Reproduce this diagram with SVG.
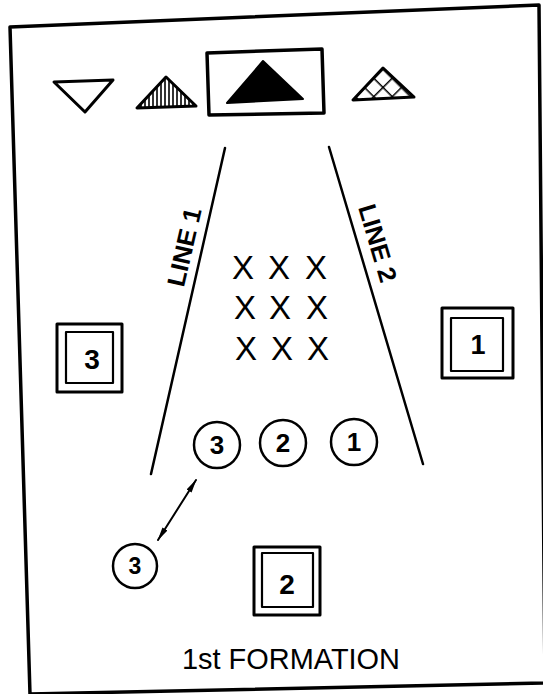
<svg xmlns="http://www.w3.org/2000/svg" width="543" height="694" viewBox="0 0 543 694">
  <style>
    .ink { fill: none; stroke: #000; stroke-linejoin: round; stroke-linecap: round; }
    .lbl { font-family: "Liberation Sans", Arial, sans-serif; fill: #000; }
    .dig { font-family: "Liberation Sans", Arial, sans-serif; font-weight: bold; fill: #000; text-anchor: middle; }
    .x { font-family: "Liberation Sans", Arial, sans-serif; font-size: 33px; fill: #000; text-anchor: middle; }
  </style>
  <defs>
    <pattern id="vhatch" patternUnits="userSpaceOnUse" width="4" height="10">
      <rect width="4" height="10" fill="#fff"/>
      <line x1="1" y1="0" x2="1" y2="10" stroke="#000" stroke-width="1.6"/>
    </pattern>
    <pattern id="xhatch" patternUnits="userSpaceOnUse" width="13" height="13" patternTransform="translate(383 68) rotate(45)">
      <rect width="13" height="13" fill="#fff"/>
      <line x1="0" y1="0" x2="13" y2="0" stroke="#000" stroke-width="3"/>
      <line x1="0" y1="0" x2="0" y2="13" stroke="#000" stroke-width="3"/>
    </pattern>
    <marker id="ah" viewBox="0 0 14 7" refX="13" refY="3.5" markerWidth="14" markerHeight="7" markerUnits="userSpaceOnUse" orient="auto-start-reverse">
      <path d="M0,0.5 L14,3.5 L0,6.5 Z" fill="#000"/>
    </marker>
  </defs>

  <rect width="543" height="694" fill="#fff"/>

  <g id="frame">
    <polygon class="ink" stroke-width="3.5" points="10,27 539,5 545,683 30,694"/>
  </g>

  <g id="tri-open">
    <polygon class="ink" stroke-width="3" points="54,82 113,80 85,112"/>
  </g>
  <g id="tri-hatched">
    <polygon class="ink" stroke-width="3" style="fill:url(#vhatch)" points="166,77 137,108 196,106"/>
  </g>
  <g id="tri-boxed">
    <polygon class="ink" stroke-width="3.5" points="207,53 322,49 324,113 209,115"/>
    <polygon fill="#000" stroke="#000" stroke-width="2" stroke-linejoin="round" points="263,61 227,103 303,99"/>
  </g>
  <g id="tri-crosshatched">
    <polygon class="ink" stroke-width="3" style="fill:url(#xhatch)" points="383,68 353,100 414,97"/>
  </g>

  <g id="line1">
    <line class="ink" stroke-width="2.5" x1="225" y1="148" x2="151" y2="474"/>
    <text class="lbl" font-size="25" font-weight="bold" text-anchor="middle" textLength="80" lengthAdjust="spacingAndGlyphs" transform="translate(184 247) rotate(-77)" y="9">LINE 1</text>
  </g>
  <g id="line2">
    <line class="ink" stroke-width="2.5" x1="329" y1="147" x2="423" y2="464"/>
    <text class="lbl" font-size="25" font-weight="bold" text-anchor="middle" textLength="80" lengthAdjust="spacingAndGlyphs" transform="translate(378 243) rotate(73.5)" y="9">LINE 2</text>
  </g>

  <g id="xs">
    <text class="x" x="243" y="279">X</text>
    <text class="x" x="279" y="279">X</text>
    <text class="x" x="316" y="279">X</text>
    <text class="x" x="245" y="319">X</text>
    <text class="x" x="280" y="319">X</text>
    <text class="x" x="317" y="319">X</text>
    <text class="x" x="246" y="360">X</text>
    <text class="x" x="282" y="360">X</text>
    <text class="x" x="318" y="360">X</text>
  </g>

  <g id="square3">
    <rect class="ink" stroke-width="3" x="57" y="324" width="65" height="68"/>
    <rect class="ink" stroke-width="2.2" x="66" y="332" width="47" height="51"/>
    <text class="dig" font-size="28" x="92" y="369">3</text>
  </g>
  <g id="square1">
    <rect class="ink" stroke-width="3" x="442" y="308" width="71" height="70"/>
    <rect class="ink" stroke-width="2.2" x="451" y="318" width="52" height="53"/>
    <text class="dig" font-size="27" x="478" y="354">1</text>
  </g>
  <g id="square2">
    <rect class="ink" stroke-width="3" x="254" y="547" width="66" height="68"/>
    <rect class="ink" stroke-width="2.2" x="262" y="553" width="51" height="54"/>
    <text class="dig" font-size="28" x="287" y="594">2</text>
  </g>

  <g id="circle3">
    <circle class="ink" stroke-width="2.5" cx="217" cy="445" r="23"/>
    <text class="dig" font-size="26" x="217" y="454">3</text>
  </g>
  <g id="circle2">
    <circle class="ink" stroke-width="2.5" cx="283" cy="443" r="23"/>
    <text class="dig" font-size="26" x="283" y="452">2</text>
  </g>
  <g id="circle1">
    <circle class="ink" stroke-width="2.5" cx="354" cy="442" r="23"/>
    <text class="dig" font-size="26" x="354" y="451">1</text>
  </g>
  <g id="circle3b">
    <circle class="ink" stroke-width="2.5" cx="135" cy="566" r="22"/>
    <text class="dig" font-size="23" x="135" y="574">3</text>
  </g>

  <g id="connectors">
    <line class="ink" stroke-width="2" x1="158" y1="540" x2="196" y2="480" marker-start="url(#ah)" marker-end="url(#ah)"/>
  </g>

  <g id="title">
    <text class="lbl" font-size="29" x="182" y="669" textLength="218" lengthAdjust="spacingAndGlyphs">1st FORMATION</text>
  </g>
</svg>
